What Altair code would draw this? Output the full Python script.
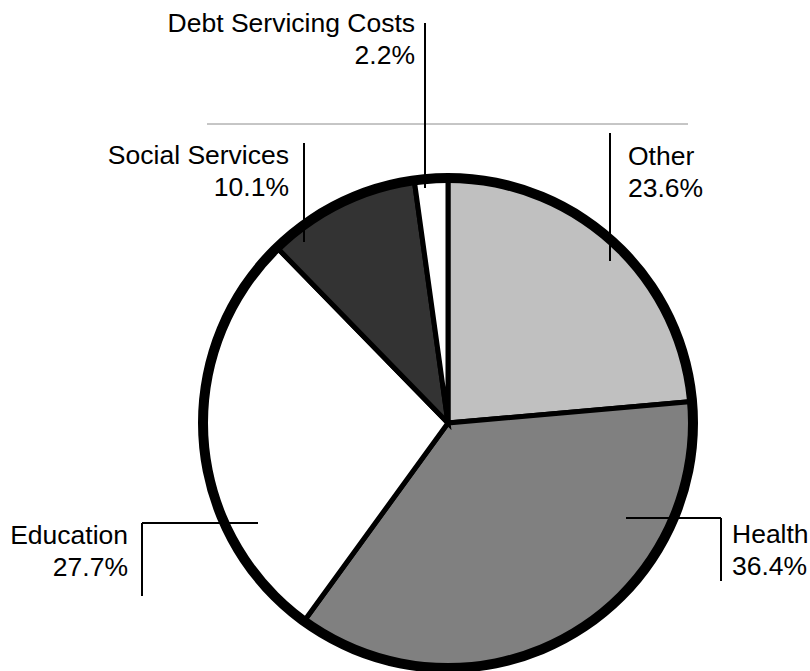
import altair as alt
import pandas as pd

# ---- data ----
categories = ["Other", "Health", "Education", "Social Services", "Debt Servicing Costs"]
shares = [23.6, 36.4, 27.7, 10.1, 2.2]
pct_labels = ["23.6%", "36.4%", "27.7%", "10.1%", "2.2%"]
fills = ["#c0c0c0", "#808080", "#ffffff", "#333333", "#ffffff"]

# ---- layout (pixels) ----
W, H = 810, 671
CX, CY, R = 448, 423, 245
label_x = [628, 732, 128, 289, 415]
label_y = [165, 543, 544, 164, 32]
label_align = ["left", "left", "right", "right", "right"]
LINE_H = 32
# leader segments: x, y, x2, y2
leader_segments = [
    (610, 133, 610, 261),
    (626, 518, 721, 518), (721, 518, 721, 581),
    (258, 523, 142, 523), (142, 523, 142, 596),
    (304, 143, 304, 242),
    (425, 23, 425, 188),
]
top_rule = (207, 124, 688, 124)

xs = alt.Scale(domain=[0, W], range=[0, W])
ys = alt.Scale(domain=[0, H], range=[0, H])

pie_df = pd.DataFrame({"category": categories, "share": shares,
                       "order": list(range(len(categories)))})

pie = alt.Chart(pie_df).mark_arc(outerRadius=R, stroke="black", strokeWidth=5,
                                 strokeJoin="miter").encode(
    theta=alt.Theta("share:Q", stack=True),
    order=alt.Order("order:Q"),
    color=alt.Color("category:N", scale=alt.Scale(domain=categories, range=fills), legend=None),
    x=alt.value(CX), y=alt.value(CY),
)

ring = alt.Chart(pd.DataFrame({"a": [0]})).mark_arc(
    innerRadius=R - 5, outerRadius=R + 5, theta=0, theta2=6.2832, color="black"
).encode(x=alt.value(CX), y=alt.value(CY))

seg_df = pd.DataFrame(leader_segments, columns=["x", "y", "x2", "y2"])
leaders = alt.Chart(seg_df).mark_rule(color="black", strokeWidth=2).encode(
    x=alt.X("x:Q", scale=xs, axis=None), y=alt.Y("y:Q", scale=ys, axis=None),
    x2="x2:Q", y2="y2:Q")

top_df = pd.DataFrame([top_rule], columns=["x", "y", "x2", "y2"])
toprule = alt.Chart(top_df).mark_rule(color="#8c8c8c", strokeWidth=1).encode(
    x=alt.X("x:Q", scale=xs, axis=None), y=alt.Y("y:Q", scale=ys, axis=None),
    x2="x2:Q", y2="y2:Q")

lab_rows = []
for c, p, lx, ly, al in zip(categories, pct_labels, label_x, label_y, label_align):
    lab_rows.append({"t": c, "x": lx, "y": ly, "al": al})
    lab_rows.append({"t": p, "x": lx, "y": ly + LINE_H, "al": al})
lab_df = pd.DataFrame(lab_rows)

texts = []
for al in ["left", "right"]:
    texts.append(alt.Chart(lab_df[lab_df["al"] == al]).mark_text(
        align=al, baseline="alphabetic", font="Liberation Sans", fontSize=26.5, color="black"
    ).encode(x=alt.X("x:Q", scale=xs, axis=None), y=alt.Y("y:Q", scale=ys, axis=None),
             text="t:N"))

chart = alt.layer(pie, ring, toprule, leaders, *texts).properties(
    width=W, height=H, autosize="none", padding=0
).configure_view(stroke=None)

chart.save("out.html", embed_options={"renderer": "svg", "actions": False})
